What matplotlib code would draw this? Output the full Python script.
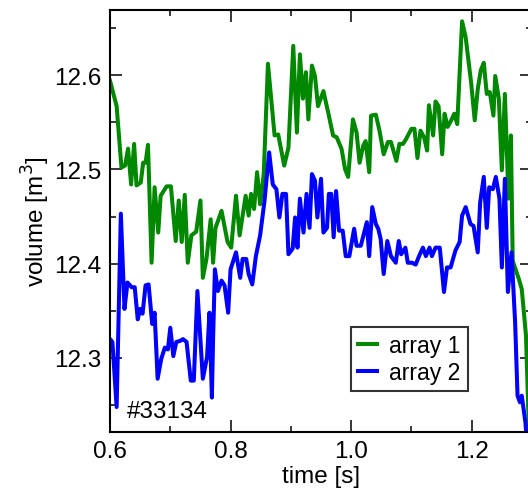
import numpy as np
import matplotlib
matplotlib.use('Agg')
import matplotlib.pyplot as plt
from matplotlib.ticker import MultipleLocator

plt.rcParams['font.family'] = ['Liberation Sans', 'DejaVu Sans']

# array 1 (green)
t1 = [0.600, 0.611, 0.619, 0.625, 0.630, 0.635, 0.640, 0.644, 0.651, 0.655,
      0.659, 0.663, 0.669, 0.674, 0.680, 0.684, 0.694, 0.701, 0.709, 0.714,
      0.719, 0.724, 0.729, 0.735, 0.743, 0.750, 0.754, 0.760, 0.767, 0.771,
      0.775, 0.785, 0.795, 0.801, 0.809, 0.815, 0.825, 0.830, 0.834, 0.839,
      0.844, 0.849, 0.855, 0.862, 0.873, 0.879, 0.889, 0.896, 0.904, 0.910,
      0.915, 0.920, 0.925, 0.929, 0.935, 0.940, 0.945, 0.954, 0.962, 0.970,
      0.976, 0.984, 0.990, 0.995, 1.003, 1.009, 1.014, 1.020, 1.024, 1.030,
      1.033, 1.041, 1.047, 1.054, 1.061, 1.066, 1.075, 1.080, 1.086, 1.091,
      1.100, 1.105, 1.110, 1.115, 1.121, 1.126, 1.129, 1.136, 1.140, 1.145,
      1.151, 1.155, 1.160, 1.166, 1.171, 1.176, 1.184, 1.190, 1.199, 1.205,
      1.210, 1.215, 1.220, 1.225, 1.230, 1.236, 1.239, 1.245, 1.250, 1.255,
      1.261, 1.265, 1.268, 1.278, 1.283, 1.290, 1.296]
v1 = [12.594, 12.567, 12.502, 12.504, 12.522, 12.484, 12.527, 12.483, 12.486, 12.507,
      12.507, 12.526, 12.401, 12.481, 12.433, 12.472, 12.482, 12.482, 12.424, 12.467,
      12.423, 12.473, 12.401, 12.430, 12.434, 12.467, 12.385, 12.405, 12.447, 12.401,
      12.438, 12.456, 12.423, 12.417, 12.472, 12.430, 12.472, 12.451, 12.474, 12.458,
      12.497, 12.463, 12.495, 12.612, 12.536, 12.537, 12.504, 12.523, 12.631, 12.539,
      12.622, 12.575, 12.603, 12.553, 12.610, 12.599, 12.567, 12.583, 12.560, 12.536,
      12.534, 12.522, 12.500, 12.492, 12.553, 12.539, 12.507, 12.525, 12.530, 12.497,
      12.557, 12.558, 12.541, 12.516, 12.529, 12.529, 12.509, 12.527, 12.527, 12.532,
      12.543, 12.543, 12.512, 12.541, 12.534, 12.520, 12.568, 12.536, 12.572, 12.567,
      12.516, 12.559, 12.545, 12.552, 12.559, 12.548, 12.657, 12.640, 12.592, 12.552,
      12.585, 12.605, 12.613, 12.580, 12.582, 12.557, 12.599, 12.575, 12.499, 12.580,
      12.469, 12.536, 12.403, 12.384, 12.373, 12.324, 12.200]

# array 2 (blue)
t2 = [0.600, 0.604, 0.611, 0.618, 0.624, 0.629, 0.636, 0.641, 0.646, 0.650,
      0.654, 0.659, 0.664, 0.670, 0.674, 0.679, 0.685, 0.691, 0.696, 0.700,
      0.705, 0.710, 0.716, 0.721, 0.727, 0.734, 0.739, 0.745, 0.754, 0.761,
      0.765, 0.769, 0.771, 0.774, 0.779, 0.785, 0.790, 0.796, 0.800, 0.809,
      0.816, 0.820, 0.826, 0.830, 0.836, 0.842, 0.849, 0.856, 0.864, 0.870,
      0.876, 0.881, 0.886, 0.892, 0.896, 0.903, 0.907, 0.911, 0.915, 0.921,
      0.926, 0.931, 0.935, 0.940, 0.944, 0.950, 0.954, 0.960, 0.963, 0.967,
      0.971, 0.975, 0.980, 0.986, 0.991, 0.997, 1.005, 1.009, 1.016, 1.026,
      1.030, 1.035, 1.041, 1.045, 1.049, 1.054, 1.060, 1.066, 1.074, 1.079,
      1.083, 1.090, 1.094, 1.101, 1.107, 1.112, 1.119, 1.124, 1.130, 1.134,
      1.140, 1.147, 1.154, 1.159, 1.165, 1.173, 1.180, 1.184, 1.190, 1.198,
      1.203, 1.210, 1.214, 1.220, 1.225, 1.229, 1.235, 1.240, 1.246, 1.250,
      1.255, 1.260, 1.266, 1.272, 1.276, 1.280, 1.283, 1.289, 1.293]
v2 = [12.320, 12.317, 12.248, 12.453, 12.352, 12.380, 12.375, 12.375, 12.341, 12.352,
      12.347, 12.377, 12.378, 12.336, 12.348, 12.278, 12.299, 12.311, 12.309, 12.332,
      12.302, 12.317, 12.318, 12.320, 12.317, 12.276, 12.276, 12.371, 12.278, 12.301,
      12.348, 12.258, 12.320, 12.394, 12.371, 12.382, 12.377, 12.348, 12.394, 12.412,
      12.385, 12.405, 12.405, 12.389, 12.378, 12.408, 12.430, 12.465, 12.518, 12.484,
      12.479, 12.449, 12.474, 12.474, 12.410, 12.416, 12.449, 12.417, 12.469, 12.433,
      12.474, 12.438, 12.495, 12.488, 12.449, 12.490, 12.433, 12.438, 12.474, 12.474,
      12.428, 12.477, 12.435, 12.435, 12.408, 12.408, 12.437, 12.419, 12.419, 12.444,
      12.408, 12.460, 12.442, 12.437, 12.426, 12.389, 12.424, 12.408, 12.401, 12.424,
      12.410, 12.417, 12.401, 12.401, 12.399, 12.407, 12.417, 12.408, 12.417, 12.408,
      12.417, 12.417, 12.370, 12.396, 12.396, 12.414, 12.423, 12.451, 12.460, 12.442,
      12.440, 12.412, 12.465, 12.492, 12.438, 12.481, 12.479, 12.492, 12.469, 12.396,
      12.490, 12.370, 12.412, 12.338, 12.260, 12.253, 12.260, 12.232, 12.200]

fig = plt.figure(figsize=(5.28, 4.89), dpi=100)
ax = fig.add_axes([110/528, 56/489, 422/528, 422/489])

ax.plot(t1, v1, color='#008800', lw=2.9, label='array 1')
ax.plot(t2, v2, color='#0000ff', lw=2.9, label='array 2')

ax.set_xlim(0.6, 1.3)
ax.set_ylim(12.2215, 12.669)
ax.xaxis.set_major_locator(MultipleLocator(0.2))
ax.xaxis.set_minor_locator(MultipleLocator(0.1))
ax.yaxis.set_major_locator(MultipleLocator(0.1))
ax.yaxis.set_minor_locator(MultipleLocator(0.05))
ax.xaxis.set_major_formatter(plt.FormatStrFormatter('%.1f'))
ax.yaxis.set_major_formatter(plt.FormatStrFormatter('%.1f'))

ax.tick_params(which='both', direction='in', top=True, right=True, width=1.1)
ax.tick_params(which='major', length=8.5, labelsize=17.5, pad=6)
ax.tick_params(which='minor', length=4.3)
for s in ax.spines.values():
    s.set_linewidth(1.5)

ax.set_xlabel('time [s]', fontsize=17.5, labelpad=2)
ax.set_ylabel('volume [m$^3$]', fontsize=17.5, labelpad=2)

ax.text(0.04, 0.036, '#33134', transform=ax.transAxes, fontsize=17.5)

leg = ax.legend(loc='lower left', bbox_to_anchor=(0.571, 0.097, 0.277, 0.145),
                mode='expand', fontsize=16.5, frameon=True, fancybox=False,
                handlelength=0.85, handletextpad=0.5, borderpad=0.3,
                labelspacing=0.2, borderaxespad=0)
leg.get_frame().set_edgecolor('black')
leg.get_frame().set_linewidth(1.5)

fig.savefig('out.png', dpi=100)
